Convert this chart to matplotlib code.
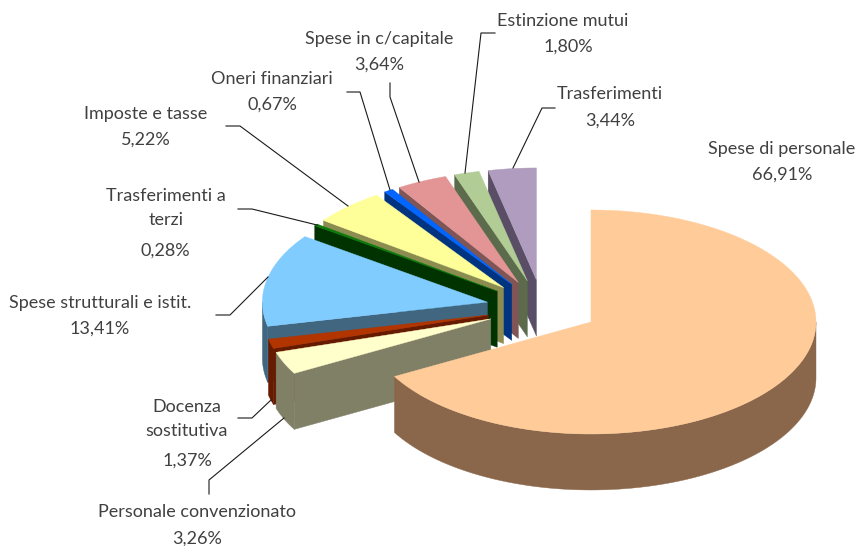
import matplotlib
matplotlib.use("Agg")
import matplotlib.pyplot as plt
import numpy as np

plt.rcParams['font.family'] = ['Lato', 'DejaVu Sans']

names = ["Spese di personale", "Personale convenzionato", "Docenza\nsostitutiva",
         "Spese strutturali e istit.", "Trasferimenti a\nterzi", "Imposte e tasse",
         "Oneri finanziari", "Spese in c/capitale", "Estinzione mutui", "Trasferimenti"]
values = [66.91, 3.26, 1.37, 13.41, 0.28, 5.22, 0.67, 3.64, 1.80, 3.44]
top_colors = ["#FFCC99", "#FFFFCC", "#B23500", "#80CCFF", "#0A7A0A",
              "#FFFF99", "#0066FF", "#E39595", "#B2CC95", "#AF9CBE"]
side_colors = ["#8A674B", "#808066", "#661A00", "#406680", "#003300",
               "#8C8C50", "#003380", "#7F5555", "#5B6B4B", "#5A4E66"]

# where the labels sit (pixels)
name_xy = [(782, 149), (197, 512), (187, 419), (100, 303), (166, 208),
           (146, 114), (272, 79), (379, 39), (563, 21), (610, 94)]
pct_xy = [(782, 175), (197, 539), (187, 461), (100, 329), (165, 251),
          (146, 140), (272, 105), (379, 65), (568, 47), (610, 121)]
# leader lines (pixels)
leaders = [None,
           [(209, 494), (209, 480), (284, 418)],
           [(238, 418), (252, 418), (271, 400)],
           [(216, 315), (230, 315), (268, 277)],
           [(238, 209), (252, 209), (317, 225)],
           [(226, 126), (240, 126), (348, 206)],
           [(347, 92), (360, 92), (390, 190)],
           [(390, 83), (390, 97), (419, 182)],
           [(495, 33), (481, 33), (465, 173)],
           [(555, 108), (542, 108), (513, 168)]]

cx, cy = 542.5, 307.8
rx, ry = 225, 112
depth = 56
explode = 0.25


def rim(tx, ty, ang):
    a = np.radians(ang)
    return tx + rx * np.sin(a), ty - ry * np.cos(a)


fig = plt.figure(figsize=(8.58, 5.46), dpi=100)
ax = fig.add_axes([0, 0, 1, 1])
ax.set_xlim(0, 858)
ax.set_ylim(546, 0)
ax.axis("off")

bounds = np.concatenate([[0], np.cumsum(values)]) / sum(values) * 360

# back slices first, main slice last
for i in list(range(len(values) - 1, -1, -1)):
    a0, a1 = bounds[i], bounds[i + 1]
    mid = np.radians((a0 + a1) / 2)
    tx = cx + explode * rx * np.sin(mid)
    ty = cy - explode * ry * np.cos(mid)

    # wall at the start angle
    if i > 0:
        x0, y0 = rim(tx, ty, a0)
        ax.fill([tx, x0, x0, tx], [ty, y0, y0 + depth, ty + depth],
                fc=side_colors[i], ec=side_colors[i], lw=0.3, zorder=i * -3 + 40)

    # outer side, only the front half shows
    s0, s1 = max(a0, 90), min(a1, 270)
    if s1 > s0:
        t = np.linspace(s0, s1, 120)
        xs, ys = rim(tx, ty, t)
        ax.fill(np.r_[xs, xs[::-1]], np.r_[ys, ys[::-1] + depth],
                fc=side_colors[i], ec=side_colors[i], lw=0.3, zorder=i * -3 + 41)

    # top
    t = np.linspace(a0, a1, 200)
    xs, ys = rim(tx, ty, t)
    ax.fill(np.r_[tx, xs], np.r_[ty, ys], fc=top_colors[i], ec=top_colors[i],
            lw=0.3, zorder=i * -3 + 42)

for i, name in enumerate(names):
    pct = f"{values[i]:.2f}%".replace(".", ",")
    ax.text(name_xy[i][0], name_xy[i][1], name, ha="center", va="center", fontsize=13,
            color="#404040", linespacing=1.55, zorder=60)
    ax.text(pct_xy[i][0], pct_xy[i][1], pct, ha="center", va="center", fontsize=13,
            color="#404040", zorder=60)
    if leaders[i]:
        xs, ys = zip(*leaders[i])
        ax.plot(xs, ys, color="#1A1A1A", lw=0.8, zorder=50)

fig.savefig("out.png", dpi=100)
